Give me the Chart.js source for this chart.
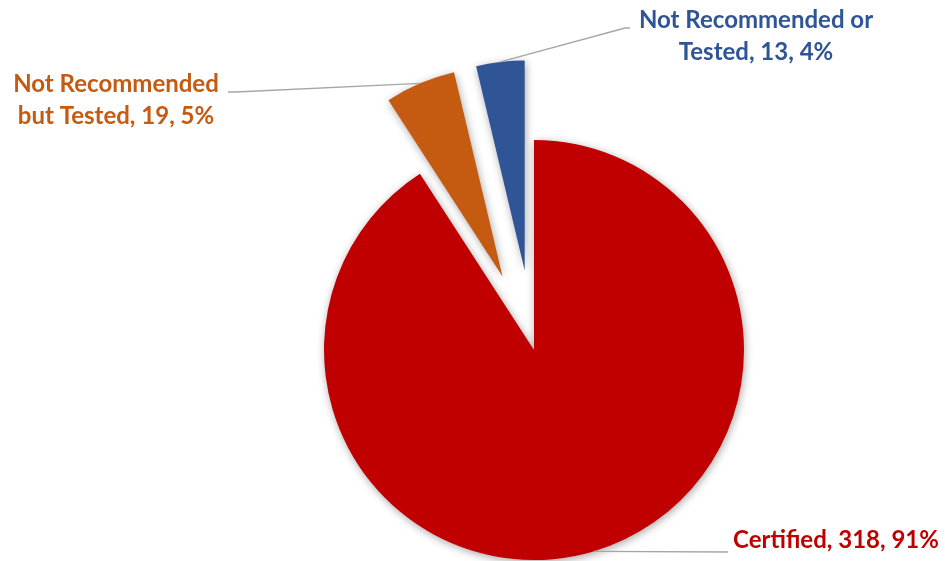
<!DOCTYPE html>
<html>
<head>
<meta charset="utf-8">
<script src="https://cdn.jsdelivr.net/npm/chart.js@4.4.0/dist/chart.umd.min.js"></script>
<style>
  html, body { margin: 0; padding: 0; background: #fff; }
  #wrap { width: 945px; height: 561px; position: relative; }
</style>
</head>
<body>
<div id="wrap"><canvas id="pieChart"></canvas></div>
<script>
const categories = ['Certified', 'Not Recommended but Tested', 'Not Recommended or Tested'];
const counts = [318, 19, 13];
const sliceColors = ['#C00000', '#C55A11', '#2F5597'];
const explode = [0, 80, 80];

const total = counts.reduce((a, b) => a + b, 0);
const percents = counts.map(c => Math.round(c / total * 100));

// label placement: text centre x, first baseline, word index of the line break, leader end + knee
const labelSpots = [
    { x: 836, y: 548, breakAfter: null, knee: [728, 552], end: [728, 552] },
    { x: 116, y: 92, breakAfter: 2, knee: [236, 92], end: [228, 92] },
    { x: 756, y: 28, breakAfter: 3, knee: [625, 28], end: [630, 28] }
];
const labelFont = 'bold 24px Lato';
const lineHeight = 32;

function labelLines(i) {
    const words = `${categories[i]}, ${counts[i]}, ${percents[i]}%`.split(' ');
    const cut = labelSpots[i].breakAfter;
    if (!cut) return [words.join(' ')];
    return [words.slice(0, cut).join(' '), words.slice(cut).join(' ')];
}

const pieExtras = {
    id: 'pieExtras',
    beforeDatasetsDraw(chart) {
        const area = chart.chartArea;
        const cx = (area.left + area.right) / 2;
        const cy = (area.top + area.bottom) / 2;
        // push exploded slices out along their middle angle
        chart.getDatasetMeta(0).data.forEach((arc, i) => {
            const mid = (arc.startAngle + arc.endAngle) / 2;
            arc.x = cx + Math.cos(mid) * explode[i];
            arc.y = cy + Math.sin(mid) * explode[i];
        });
        const ctx = chart.ctx;
        ctx.save();
        ctx.shadowColor = 'rgba(0,0,0,0.35)';
        ctx.shadowBlur = 8;
        ctx.shadowOffsetX = 1;
        ctx.shadowOffsetY = 2;
    },
    afterDatasetsDraw(chart) {
        const ctx = chart.ctx;
        ctx.restore();

        chart.getDatasetMeta(0).data.forEach((arc, i) => {
            const spot = labelSpots[i];
            const mid = (arc.startAngle + arc.endAngle) / 2;
            const px = arc.x + Math.cos(mid) * arc.outerRadius;
            const py = arc.y + Math.sin(mid) * arc.outerRadius;

            ctx.save();
            ctx.strokeStyle = '#A6A6A6';
            ctx.lineWidth = 1.3;
            ctx.beginPath();
            ctx.moveTo(px, py);
            ctx.lineTo(spot.knee[0], spot.knee[1]);
            ctx.lineTo(spot.end[0], spot.end[1]);
            ctx.stroke();

            ctx.font = labelFont;
            ctx.fillStyle = sliceColors[i];
            ctx.textAlign = 'center';
            ctx.textBaseline = 'alphabetic';
            labelLines(i).forEach((line, k) => {
                ctx.fillText(line, spot.x, spot.y + k * lineHeight);
            });
            ctx.restore();
        });
    }
};

new Chart(document.getElementById('pieChart'), {
    type: 'pie',
    data: {
        labels: categories,
        datasets: [{
            data: counts,
            backgroundColor: sliceColors,
            borderWidth: 0,
            clip: false
        }]
    },
    options: {
        responsive: true,
        maintainAspectRatio: false,
        animation: false,
        radius: 210,
        layout: { padding: { left: 123, right: 0, top: 139, bottom: 0 } },
        plugins: {
            legend: { display: false },
            tooltip: { enabled: false }
        }
    },
    plugins: [pieExtras]
});
</script>
</body>
</html>
